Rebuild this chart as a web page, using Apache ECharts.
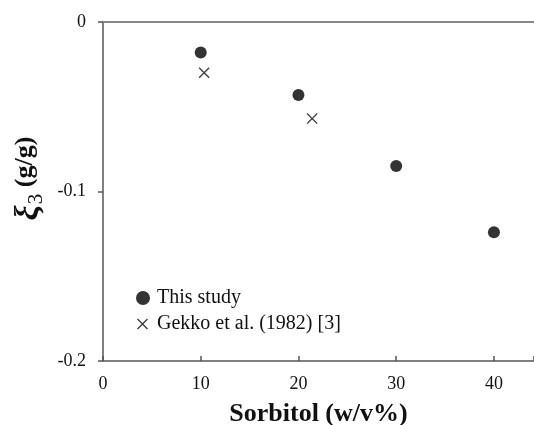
<!DOCTYPE html>
<html>
<head>
<meta charset="utf-8">
<script src="https://cdn.jsdelivr.net/npm/echarts@6/dist/echarts.min.js"></script>
<style>
html,body{margin:0;padding:0;background:#fff;}
#c{width:534px;height:425px;}
</style>
</head>
<body>
<div id="c"></div>
<script>
// Data
const seriesNames = ['This study', 'Gekko et al. (1982) [3]'];
const thisStudyX = [10, 20, 30, 40];
const thisStudyY = [-0.018, -0.043, -0.085, -0.124];
const gekkoX = [10.35, 21.4];
const gekkoY = [-0.030, -0.057];
const xTicks = [0, 10, 20, 30, 40];
const yTicks = [0, -0.1, -0.2];

const FONT = 'Liberation Serif';
const crossPath = 'path://M0,0.9L0.9,0L5,4.1L9.1,0L10,0.9L5.9,5L10,9.1L9.1,10L5,5.9L0.9,10L0,9.1L4.1,5Z';

const chart = echarts.init(document.getElementById('c'), null, {renderer: 'canvas'});
const option = {
  animation: false,
  backgroundColor: '#fff',
  grid: {left: 103, right: 0, top: 22, bottom: 64, containLabel: false, outerBoundsMode: 'none'},
  xAxis: [{
    type: 'value', min: 0, max: 44.1, interval: 10, position: 'bottom',
    name: 'Sorbitol (w/v%)', nameLocation: 'middle', nameGap: 40,
    nameTextStyle: {fontFamily: FONT, fontSize: 26, fontWeight: 'bold', color: '#111'},
    axisLine: {show: true, onZero: false, lineStyle: {color: '#555', width: 1.5}},
    axisTick: {show: true, inside: true, length: 5, lineStyle: {color: '#555', width: 1.5}},
    axisLabel: {margin: 14, fontFamily: FONT, fontSize: 18, color: '#111',
      formatter: v => xTicks.includes(v) ? String(v) : ''},
    splitLine: {show: false}
  }, {
    type: 'value', min: 0, max: 44.1, position: 'top',
    axisLine: {show: true, onZero: false, lineStyle: {color: '#888', width: 2}},
    axisTick: {show: false}, axisLabel: {show: false}, splitLine: {show: false}
  }],
  yAxis: {
    type: 'value', min: -0.2, max: 0, interval: 0.1,
    name: '{xi|ξ}{sub|3}{n| (g/g)}', nameLocation: 'middle', nameGap: 45, nameRotate: 90,
    nameTextStyle: {
      fontFamily: FONT, fontSize: 26, fontWeight: 'bold', color: '#111',
      padding: [0, 0, 0, 26],
      rich: {
        xi: {fontFamily: FONT, fontSize: 34, fontWeight: 'bold', fontStyle: 'italic', color: '#111', lineHeight: 30, verticalAlign: 'top'},
        sub: {fontFamily: FONT, fontSize: 21, fontWeight: 'normal', color: '#111', lineHeight: 21, padding: [13, 0, 0, 1], verticalAlign: 'top'},
        n: {fontFamily: FONT, fontSize: 26, fontWeight: 'bold', color: '#111', lineHeight: 30, verticalAlign: 'top'}
      }
    },
    axisLine: {show: true, onZero: false, lineStyle: {color: '#555', width: 1.5}},
    axisTick: {show: true, inside: false, length: 5, lineStyle: {color: '#555', width: 1.5}},
    axisLabel: {margin: 17, fontFamily: FONT, fontSize: 18, color: '#111',
      formatter: v => {
        const t = yTicks.find(y => Math.abs(y - v) < 1e-9);
        return t === undefined ? '' : (t === 0 ? '0' : String(t));
      }},
    splitLine: {show: false}
  },
  legend: [{
    data: [seriesNames[0]], orient: 'vertical', left: 136, top: 288, padding: 0,
    itemWidth: 14, itemHeight: 14, itemGap: 6,
    textStyle: {fontFamily: FONT, fontSize: 20, color: '#111', padding: [0, 0, 0, 2]}
  }, {
    data: [{name: seriesNames[1], icon: crossPath}], orient: 'vertical', left: 137, top: 314, padding: 0,
    itemWidth: 13, itemHeight: 11, itemGap: 6, symbolKeepAspect: true,
    textStyle: {fontFamily: FONT, fontSize: 20, color: '#111', padding: [0, 0, 0, 3]}
  }],
  series: [{
    name: seriesNames[0], type: 'scatter', symbol: 'circle', symbolSize: 12,
    itemStyle: {color: '#000'},
    data: thisStudyX.map((x, i) => [x, thisStudyY[i]])
  }, {
    name: seriesNames[1], type: 'scatter', symbol: crossPath, symbolSize: 11,
    itemStyle: {color: '#111'},
    data: gekkoX.map((x, i) => [x, gekkoY[i]])
  }]
};
chart.setOption(option);
</script>
</body>
</html>
